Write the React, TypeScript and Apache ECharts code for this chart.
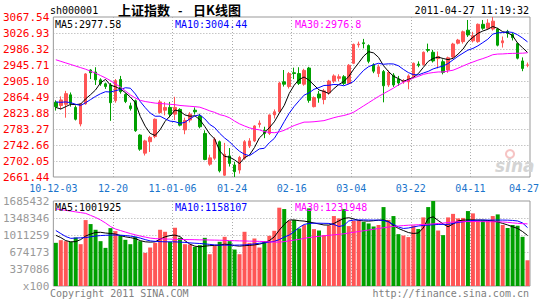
import React, { useEffect, useRef } from "react";
import * as echarts from "echarts";

const dates = [
  "2010-12-03","2010-12-06","2010-12-07","2010-12-08","2010-12-09","2010-12-10","2010-12-13","2010-12-14","2010-12-15","2010-12-16",
  "2010-12-17","2010-12-20","2010-12-21","2010-12-22","2010-12-23","2010-12-24","2010-12-27","2010-12-28","2010-12-29","2010-12-30",
  "2010-12-31","2011-01-04","2011-01-05","2011-01-06","2011-01-07","2011-01-10","2011-01-11","2011-01-12","2011-01-13","2011-01-14",
  "2011-01-17","2011-01-18","2011-01-19","2011-01-20","2011-01-21","2011-01-24","2011-01-25","2011-01-26","2011-01-27","2011-01-28",
  "2011-01-31","2011-02-01","2011-02-09","2011-02-10","2011-02-11","2011-02-14","2011-02-15","2011-02-16","2011-02-17","2011-02-18",
  "2011-02-21","2011-02-22","2011-02-23","2011-02-24","2011-02-25","2011-02-28","2011-03-01","2011-03-02","2011-03-03","2011-03-04",
  "2011-03-07","2011-03-08","2011-03-09","2011-03-10","2011-03-11","2011-03-14","2011-03-15","2011-03-16","2011-03-17","2011-03-18",
  "2011-03-21","2011-03-22","2011-03-23","2011-03-24","2011-03-25","2011-03-28","2011-03-29","2011-03-30","2011-03-31","2011-04-01",
  "2011-04-06","2011-04-07","2011-04-08","2011-04-11","2011-04-12","2011-04-13","2011-04-14","2011-04-15","2011-04-18","2011-04-19",
  "2011-04-20","2011-04-21","2011-04-22","2011-04-25","2011-04-26","2011-04-27",
];

const xTickLabels = ["10-12-03", "12-20", "11-01-06", "01-24", "02-16", "03-04", "03-22", "04-11", "04-27"];

const opens = [
  2851,2843,2846,2870,2838,2796,2847,2933,2928,2908, 2898,2895,2855,2909,2871,2842,2855,2768,2722,2751,
  2764,2825,2831,2838,2821,2833,2781,2806,2831,2816, 2772,2694,2709,2751,2666,2715,2692,2679,2709,2740,
  2753,2795,2780,2772,2819,2827,2903,2891,2926,2924, 2897,2938,2840,2872,2858,2875,2905,2912,2916,2899,
  2950,2997,3002,2995,2946,2924,2929,2895,2920,2910, 2903,2903,2916,2948,2947,2985,2978,2962,2954,2933,
  2966,3001,3005,3034,3007,3005,3049,3039,3037,3037, 3002,3031,3024,3000,2956,2945,
];
const closes = [
  2840,2857,2873,2848,2808,2847,2923,2926,2908,2898, 2891,2850,2906,2878,2853,2835,2779,2732,2753,2762,
  2808,2852,2838,2821,2838,2793,2805,2821,2827,2789, 2706,2710,2757,2677,2719,2696,2675,2711,2751,2753,
  2791,2798,2772,2819,2827,2900,2897,2924,2924,2899, 2932,2856,2863,2862,2880,2905,2918,2916,2899,2945,
  2998,2999,3000,2955,2930,2941,2893,2927,2895,2900, 2906,2918,2950,2945,2978,2983,2956,2967,2927,2964,
  2999,3009,3030,3022,3020,3049,3039,3052,3057,2996, 3007,3026,3015,2963,2937,2946,
];
const lows = [
  2830,2833,2812,2840,2805,2790,2845,2910,2895,2893, 2885,2804,2850,2873,2849,2830,2776,2728,2716,2725,
  2760,2822,2818,2813,2806,2790,2770,2800,2820,2785, 2704,2690,2705,2673,2664,2688,2661.44,2670,2705,2735,
  2750,2787,2760,2768,2810,2825,2891,2886,2910,2895, 2893,2850,2838,2850,2846,2870,2900,2905,2895,2897,
  2948,2990,2988,2950,2925,2915,2851,2890,2890,2893, 2898,2884,2912,2940,2944,2978,2952,2937,2922,2926,
  2962,2998,3000,3017,3003,3002,3035,3035,3033,2993, 2990,3015,3008,2960,2930,2940,
];
const highs = [
  2856,2866,2880,2876,2843,2849,2925,2935,2940,2912, 2901,2900,2910,2918,2874,2850,2858,2770,2756,2766,
  2810,2857,2852,2852,2865,2836,2812,2826,2838,2822, 2780,2718,2762,2754,2748,2735,2700,2715,2755,2760,
  2793,2805,2789,2820,2833,2903,2933,2928,2939,2940, 2936,2941,2866,2880,2885,2908,2922,2922,2920,2948,
  3000,3005,3012,2998,2950,2947,2933,2932,2925,2918, 2910,2922,2952,2955,2980,3000,2984,2980,2960,2967,
  3002,3012,3033,3060,3030,3051,3060,3062,3067.54,3040, 3018,3035,3028,3002,2965,2952,
];

const ma5 = [
  2838,2834,2840,2846,2845.2,2846.6,2859.8,2870.4,2882.4,2900.4, 2909.2,2894.6,2890.6,2884.6,2875.6,2864.4,2850.2,2815.4,2790.4,2772.2,
  2766.8,2781.4,2802.6,2816.2,2831.4,2828.4,2819,2815.6,2816.8,2807, 2789.6,2770.6,2757.8,2727.8,2713.8,2711.8,2704.8,2695.6,2710.4,2717.2,
  2736.2,2760.8,2773,2786.6,2801.4,2823.2,2843,2873.4,2894.4,2908.8, 2915.2,2907,2894.8,2882.4,2878.6,2873.2,2885.6,2896.2,2903.6,2916.6,
  2935.2,2951.4,2968.2,2979.4,2976.4,2965,2943.8,2929.2,2917.2,2911.2, 2904.2,2909.2,2913.8,2923.8,2939.4,2954.8,2962.4,2965.8,2962.2,2959.4,
  2962.6,2973.2,2985.8,3004.8,3016,3026,3032,3036.4,3043.4,3038.6, 3030.2,3027.6,3020.2,3001.4,2989.6,2977.58,
];
const ma10 = [
  2852,2851,2852,2850,2846,2843,2850,2858,2866,2872.8, 2877.9,2877.2,2880.5,2883.5,2888,2886.8,2872.4,2853,2837.5,2823.9,
  2815.6,2815.8,2809,2803.3,2801.8,2797.6,2800.2,2809.1,2816.5,2819.2, 2809,2794.8,2786.7,2772.3,2760.4,2750.7,2737.7,2726.7,2719.1,2715.5,
  2724,2732.8,2734.3,2748.5,2759.3,2779.7,2801.9,2823.2,2840.5,2855.1, 2869.2,2875,2884.1,2888.4,2893.7,2894.2,2896.3,2895.5,2893,2897.6,
  2904.2,2918.5,2932.2,2941.5,2946.5,2950.1,2947.6,2948.7,2948.3,2943.8, 2934.6,2926.5,2921.5,2920.5,2925.3,2929.5,2935.8,2939.8,2943,2949.4,
  2958.7,2967.8,2975.8,2983.5,2987.7,2994.3,3002.6,3011.1,3024.1,3027.3, 3028.1,3029.8,3028.3,3022.4,3014.1,3004.44,
];
const ma30 = [
  2959,2955,2951,2947,2943,2939,2935,2930,2925,2919, 2913,2906,2898,2890,2880,2870,2862,2856,2853,2851,
  2849,2848,2847,2846,2845,2843,2842,2841,2840,2838.6, 2834.2,2829.3,2825.4,2819.7,2816.7,2811.7,2803.4,2796.3,2791,2786.2,
  2782.9,2781.1,2776.7,2774.7,2773.8,2776,2779.9,2786.3,2792,2796.6, 2800.7,2800.9,2801.7,2803.1,2804.5,2808.2,2812,2815.1,2817.5,2821,
  2826,2834,2842,2850,2858,2866,2873,2880,2887,2895, 2902,2906.7,2912.6,2916.8,2921.8,2924.6,2926.6,2928,2928.1,2930.3,
  2932.5,2937.6,2943.2,2948.5,2953.2,2958,2962,2966.5,2971.8,2973.5, 2973.8,2974.7,2975.2,2975.5,2975.7,2976.8,
];

const volumes = [
  856000,909000,889000,876000,962000,829000,1307000,1228000,1115000,889000,
  756000,1148000,1088000,995000,916000,829000,975000,889000,657000,763000,
  856000,1115000,1075000,876000,1155000,955000,829000,823000,776000,810000,
  955000,630000,796000,876000,975000,889000,723000,630000,1075000,856000,
  942000,763000,889000,995000,1095000,1553000,1526000,1294000,1310000,1141000,
  1208000,1539000,1128000,1100000,1009000,1200000,1387000,1340000,1526000,1188000,
  1294000,1300000,1270000,1240000,1180000,1210000,1565000,1310000,1387000,1028000,
  1000000,970000,1200000,1130000,1360000,1565000,1685000,1100000,1009000,1360000,
  1430000,1340000,1350000,1486000,1440000,1300000,1300000,1300000,1387000,1420000,
  1210000,1150000,1210000,1195000,975000,510000,
];
const volMa5 = [
  1005000,960000,900000,876000,880000,920000,990000,1030000,1062000,1065000,
  1050000,1042000,1030000,1000000,975000,960000,940000,900000,876000,870000,
  876000,930000,975000,1000000,1009000,980000,900000,830000,790000,776000,
  790000,800000,805000,810000,830000,820000,800000,790000,800000,805000,
  815000,830000,856000,900000,975000,1108000,1220000,1307000,1310000,1295000,
  1287000,1270000,1250000,1230000,1210000,1208000,1240000,1290000,1340000,1354000,
  1330000,1300000,1290000,1287000,1295000,1305000,1307000,1280000,1200000,1141000,
  1100000,1060000,1042000,1050000,1150000,1340000,1373000,1300000,1230000,1174000,
  1230000,1290000,1307000,1310000,1310000,1307000,1307000,1300000,1290000,1270000,
  1241000,1210000,1175000,1141000,1080000,1001925,
];
const volMa10 = [
  1100000,1040000,980000,945000,950000,955000,960000,975000,990000,1000000,
  1005000,1010000,1010000,1008000,1000000,990000,975000,950000,920000,895000,
  885000,880000,876000,876000,875000,870000,865000,855000,848000,843000,
  835000,825000,815000,810000,810000,810000,810000,812000,815000,823000,
  835000,848000,856000,870000,885000,920000,970000,1010000,1080000,1160000,
  1220000,1241000,1245000,1245000,1243000,1241000,1220000,1180000,1200000,1290000,
  1307000,1310000,1310000,1308000,1307000,1307000,1300000,1270000,1220000,1170000,
  1141000,1150000,1170000,1190000,1200000,1208000,1215000,1220000,1222000,1221000,
  1240000,1260000,1274000,1290000,1300000,1307000,1307000,1307000,1307000,1307000,
  1307000,1305000,1300000,1290000,1250000,1158107,
];
const volMa30 = [
  1530000,1515000,1500000,1485000,1470000,1455000,1440000,1400000,1360000,1310000,
  1250000,1180000,1130000,1100000,1070000,1040000,1015000,990000,970000,950000,
  940000,935000,930000,930000,925000,925000,920000,920000,918000,915000,
  915000,912000,910000,908000,905000,900000,898000,895000,893000,890000,
  888000,885000,880000,875000,870000,870000,880000,895000,910000,925000,
  945000,960000,975000,985000,995000,1005000,1015000,1025000,1035000,1050000,
  1065000,1080000,1095000,1110000,1125000,1140000,1155000,1170000,1180000,1190000,
  1198000,1205000,1210000,1215000,1220000,1225000,1232000,1240000,1248000,1258000,
  1268000,1274000,1276000,1278000,1278000,1278000,1276000,1275000,1274000,1273000,
  1270000,1262000,1252000,1243000,1236000,1231948,
];

const priceLegend = ["MA5:2977.58", "MA10:3004.44", "MA30:2976.8"];
const volLegend = ["MA5:1001925", "MA10:1158107", "MA30:1231948"];

const UP = "#ff5555";
const DOWN = "#00a000";
const BLUE_LBL = "#1a74cc";
const MONO = '"DejaVu Sans Mono", monospace';
const CJK = '"Noto Sans CJK SC", sans-serif';
const GRIDLINE = { color: "#aaaaaa", type: [1, 2] as any, width: 1 };

export default function App() {
  const ref = useRef<HTMLDivElement>(null);

  useEffect(() => {
    if (!ref.current) return;
    const chart = echarts.init(ref.current, null, { renderer: "svg" });

    const candleData = dates.map((_, i) => [opens[i], closes[i], lows[i], highs[i]]);
    const volData = volumes.map((v, i) => ({
      value: v,
      itemStyle: { color: closes[i] >= opens[i] ? UP : DOWN },
    }));

    const valueXAxis = (grid: number, withLabels: boolean) => ({
      type: "value",
      gridIndex: grid,
      min: 0,
      max: 96,
      interval: 12,
      position: "bottom",
      axisLine: { show: false },
      axisTick: { show: false },
      splitLine: { show: true, showMinLine: false, showMaxLine: false, lineStyle: GRIDLINE },
      axisLabel: withLabels
        ? {
            show: true,
            color: BLUE_LBL,
            fontSize: 10,
            fontFamily: MONO,
            margin: 6,
            formatter: (v: number) => {
              const idx = Math.round(v / 12);
              const s = xTickLabels[idx] ?? "";
              return idx === xTickLabels.length - 1 ? `{r|${s}}` : s;
            },
            rich: { r: { color: BLUE_LBL, fontSize: 10, fontFamily: MONO, padding: [0, 12, 0, 0] } },
          }
        : { show: false },
    });

    const maLine = (name: string, data: number[], color: string, xi: number, yi: number) => ({
      name,
      type: "line",
      xAxisIndex: xi,
      yAxisIndex: yi,
      data,
      symbol: "none",
      smooth: false,
      lineStyle: { color, width: 1 },
      z: 4,
      silent: true,
    });

    const txt = (x: number, y: number, text: string, fill: string, extra: any = {}) => ({
      type: "text",
      x,
      y,
      z: 100,
      style: {
        text,
        fill,
        fontSize: 10,
        fontFamily: MONO,
        align: "left",
        verticalAlign: "middle",
        ...extra,
      },
    });

    const option: any = {
      animation: false,
      backgroundColor: "#ffffff",
      grid: [
        { left: 50, top: 17, width: 480, height: 160, show: true, borderColor: "#999999", borderWidth: 1, backgroundColor: "transparent" },
        { left: 50, top: 201, width: 480, height: 85, show: true, borderColor: "#999999", borderWidth: 1, backgroundColor: "transparent" },
      ],
      xAxis: [
        { type: "category", gridIndex: 0, data: dates, boundaryGap: true, show: false },
        valueXAxis(0, true),
        { type: "category", gridIndex: 1, data: dates, boundaryGap: true, show: false },
        valueXAxis(1, false),
      ],
      yAxis: [
        {
          type: "value",
          gridIndex: 0,
          min: 2661.44,
          max: 3067.54,
          interval: 40.61,
          axisLine: { show: false },
          axisTick: { show: false },
          splitLine: { show: true, showMinLine: false, showMaxLine: false, lineStyle: GRIDLINE },
          axisLabel: { color: "#ff0000", fontSize: 11, fontFamily: MONO, margin: 4, formatter: (v: number) => v.toFixed(2) },
        },
        {
          type: "value",
          gridIndex: 1,
          min: 0,
          max: 1685432,
          interval: 337086.4,
          axisLine: { show: false },
          axisTick: { show: false },
          splitLine: { show: true, showMinLine: false, showMaxLine: false, lineStyle: GRIDLINE },
          axisLabel: {
            color: "#999999",
            fontSize: 11,
            fontFamily: MONO,
            margin: 4,
            formatter: (v: number) => (v === 0 ? "x100" : String(Math.round(v))),
          },
        },
      ],
      series: [
        {
          name: "K",
          type: "candlestick",
          xAxisIndex: 0,
          yAxisIndex: 0,
          data: candleData,
          barWidth: 3,
          itemStyle: { color: UP, color0: DOWN, borderColor: UP, borderColor0: DOWN, borderWidth: 1 },
          z: 2,
          silent: true,
        },
        maLine("MA5", ma5, "#000000", 0, 0),
        maLine("MA10", ma10, "#0000ff", 0, 0),
        maLine("MA30", ma30, "#ff00ff", 0, 0),
        {
          name: "VOL",
          type: "bar",
          xAxisIndex: 2,
          yAxisIndex: 1,
          data: volData,
          barWidth: 4,
          z: 2,
          silent: true,
        },
        maLine("VMA5", volMa5, "#000000", 2, 1),
        maLine("VMA10", volMa10, "#0000ff", 2, 1),
        maLine("VMA30", volMa30, "#ff00ff", 2, 1),
      ],
      graphic: [
        txt(50, 10, "sh000001", "#000000"),
        txt(118, 9, "上证指数", "#000000", { fontSize: 13, fontWeight: "bold", fontFamily: CJK }),
        txt(178, 9, "-", "#000000", { fontSize: 12, fontWeight: "bold", fontFamily: CJK }),
        txt(193, 9, "日K线图", "#000000", { fontSize: 13, fontWeight: "bold", fontFamily: CJK }),
        txt(529, 10, "2011-04-27 11:19:32", "#000000", { align: "right" }),
        txt(55, 24, priceLegend[0], "#000000"),
        txt(175, 24, priceLegend[1], "#0000ff"),
        txt(295, 24, priceLegend[2], "#ff00ff"),
        txt(55, 207, volLegend[0], "#000000"),
        txt(175, 207, volLegend[1], "#0000ff"),
        txt(295, 207, volLegend[2], "#ff00ff"),
        txt(50, 293, "Copyright 2011 SINA.COM", "#808080"),
        txt(529, 293, "http://finance.sina.com.cn", "#808080", { align: "right" }),
        {
          type: "ring",
          z: 1,
          shape: { cx: 510, cy: 154, r: 5, r0: 3 },
          style: { fill: "#f6c4c4" },
        },
        txt(495, 166, "sina", "#d4d4d4", { fontSize: 17, fontStyle: "italic", fontWeight: "bold", fontFamily: '"DejaVu Sans", sans-serif' }),
      ],
    };

    chart.setOption(option);
    return () => chart.dispose();
  }, []);

  return (
    <div
      ref={ref}
      style={{ position: "absolute", left: 0, top: 0, width: 545, height: 300, background: "#ffffff" }}
    />
  );
}
